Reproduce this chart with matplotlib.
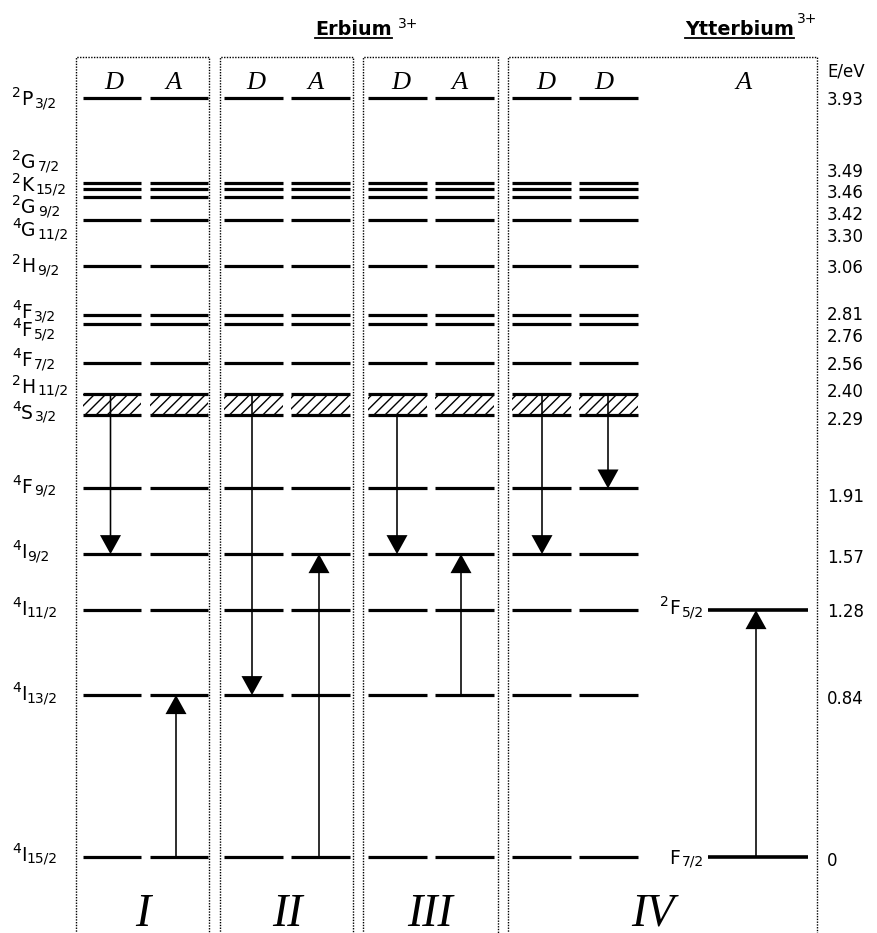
import matplotlib
matplotlib.use("Agg")
import matplotlib.pyplot as plt
from matplotlib.patches import Rectangle
from matplotlib.lines import Line2D

plt.rcParams['font.family'] = ['DejaVu Sans']
plt.rcParams['hatch.linewidth'] = 1.0

# ---------------- data ----------------
er_mult = ['2', '2', '2', '2', '4', '2', '4', '4', '4', '2', '4', '4', '4', '4', '4', '4']
er_letter = ['P', 'G', 'K', 'G', 'G', 'H', 'F', 'F', 'F', 'H', 'S', 'F', 'I', 'I', 'I', 'I']
er_j = ['3/2', '7/2', '15/2', '9/2', '11/2', '9/2', '3/2', '5/2', '7/2', '11/2', '3/2',
        '9/2', '9/2', '11/2', '13/2', '15/2']
er_energies = [3.93, 3.49, 3.46, 3.42, 3.30, 3.06, 2.81, 2.76, 2.56, 2.40, 2.29,
               1.91, 1.57, 1.28, 0.84, 0.0]
energy_labels = ['3.93', '3.49', '3.46', '3.42', '3.30', '3.06', '2.81', '2.76', '2.56',
                 '2.40', '2.29', '1.91', '1.57', '1.28', '0.84', '0']
band_low, band_high = 2.29, 2.40   # 4S3/2 .. 2H11/2 band

yb_mult = ['2', '']
yb_letter = ['F', 'F']
yb_j = ['5/2', '7/2']
yb_energies = [1.28, 0.0]

column_labels = ['D', 'A', 'D', 'A', 'D', 'A', 'D', 'D']
yb_column_label = 'A'
panel_labels = ['I', 'II', 'III', 'IV']

# transitions: (column index, start energy, end energy); column 8 = Yb
transitions = [
    (0, 2.40, 1.57), (1, 0.0, 0.84),
    (2, 2.40, 0.84), (3, 0.0, 1.57),
    (4, 2.29, 1.57), (5, 0.84, 1.57),
    (6, 2.40, 1.57), (7, 2.40, 1.91),
    (8, 0.0, 1.28),
]

# ---------------- layout ----------------
PX_PER_EV = 193.1
E_TOP = 857.3 / PX_PER_EV
W, H = 877, 933


def py(y):
    """convert a pixel row (from top) into energy units for layout"""
    return E_TOP - y / PX_PER_EV


columns = [(83, 141), (150, 208), (224, 283), (291, 350), (368, 427), (435, 494),
           (512, 571), (579, 638)]
yb_column = (708, 808)
arrow_x = [110.5, 176, 252, 319, 397, 461, 542, 608, 756]
header_x = [114, 174, 256, 315, 401, 459, 546, 604, 743]
panels = [(76, 209), (220, 353), (363, 498), (508, 817)]
panel_label_x = [143, 287, 430, 653]
left_label_base = [105, 168, 191, 213, 236, 272, 318, 336, 366, 393, 419,
                   493, 558, 615, 700, 861]
right_label_base = [105, 177, 198, 220, 242, 273, 320, 342, 370, 397, 425,
                    502, 563, 617, 704, 866]
yb_label_base = [614, 864]

fig = plt.figure(figsize=(W / 100, H / 100), dpi=100)
ax = fig.add_axes([0, 0, 1, 1])
ax.set_xlim(0, W)
ax.set_ylim(py(H), py(0))
ax.axis('off')
renderer = fig.canvas.get_renderer()


def draw_term(x, base, mult, letter, j, gap, align='left'):
    specs = []
    if mult:
        specs.append((mult, 10, base - 8, 0.5))
    specs.append((letter, 13.5, base, gap))
    specs.append((j, 10, base + 2, 0))
    texts = [ax.text(0, py(b), s, fontsize=fs, ha='left', va='baseline')
             for s, fs, b, g in specs]
    widths = [t.get_window_extent(renderer).width for t in texts]
    total = sum(widths) + sum(s[3] for s in specs[:-1])
    cur = x if align == 'left' else x - total
    for t, w, s in zip(texts, widths, specs):
        t.set_x(cur)
        cur += w + s[3]


LW = 2.3
# panel boxes (dotted, open at bottom)
for x0, x1 in panels:
    ax.plot([x0, x0, x1, x1], [py(H + 5), py(57), py(57), py(H + 5)],
            color='black', lw=1.0, ls=(0, (1, 1)), clip_on=False)

# Er levels
for x0, x1 in columns:
    for e in er_energies:
        ax.plot([x0, x1], [e, e], color='black', lw=LW, solid_capstyle='butt')
    ax.add_patch(Rectangle((x0, band_low), x1 - x0, band_high - band_low,
                           fill=False, hatch='///', lw=0, edgecolor='black'))

# Yb levels
for e in yb_energies:
    ax.plot(list(yb_column), [e, e], color='black', lw=LW + 0.3, solid_capstyle='butt')

# transitions
for (ci, e0, e1) in transitions:
    ax.arrow(arrow_x[ci], e0, 0, e1 - e0, width=1.6, head_width=21,
             head_length=19 / PX_PER_EV, length_includes_head=True,
             fc='black', ec='black', lw=0)

# level labels
for m, l, j, yb in zip(er_mult, er_letter, er_j, left_label_base):
    draw_term(12, yb, m, l, j, 0 if l == 'I' else 2, 'left')
for t, yb in zip(energy_labels, right_label_base):
    ax.text(827, py(yb), t, fontsize=12, ha='left', va='baseline')
ax.text(827, py(77), 'E/eV', fontsize=12, ha='left', va='baseline')
for m, l, j, yb in zip(yb_mult, yb_letter, yb_j, yb_label_base):
    draw_term(704, yb, m, l, j, 2, 'right')

# column headers
serif = ['Liberation Serif', 'DejaVu Serif']
for lab, x in zip(column_labels + [yb_column_label], header_x):
    ax.text(x, py(89), lab, fontsize=19, family=serif, style='italic',
            ha='center', va='baseline')
for lab, x in zip(panel_labels, panel_label_x):
    ax.text(x, py(926), lab, fontsize=33, family=serif, style='italic',
            ha='center', va='baseline')

# element titles
t_er = ax.text(315, py(35), 'Erbium', fontsize=13.8, fontweight='bold', ha='left', va='baseline')
ax.text(398, py(28), '3+', fontsize=10, ha='left', va='baseline')
t_yb = ax.text(685, py(35), 'Ytterbium', fontsize=13.8, fontweight='bold', ha='left', va='baseline')
ax.text(797, py(23), '3+', fontsize=10, ha='left', va='baseline')

fig.canvas.draw()
for t in (t_er, t_yb):
    bb = t.get_window_extent()
    yline = H - 38
    fig.add_artist(Line2D([bb.x0, bb.x1], [yline, yline], transform=None,
                          color='black', lw=1.3))

fig.savefig('out.png', dpi=100)
